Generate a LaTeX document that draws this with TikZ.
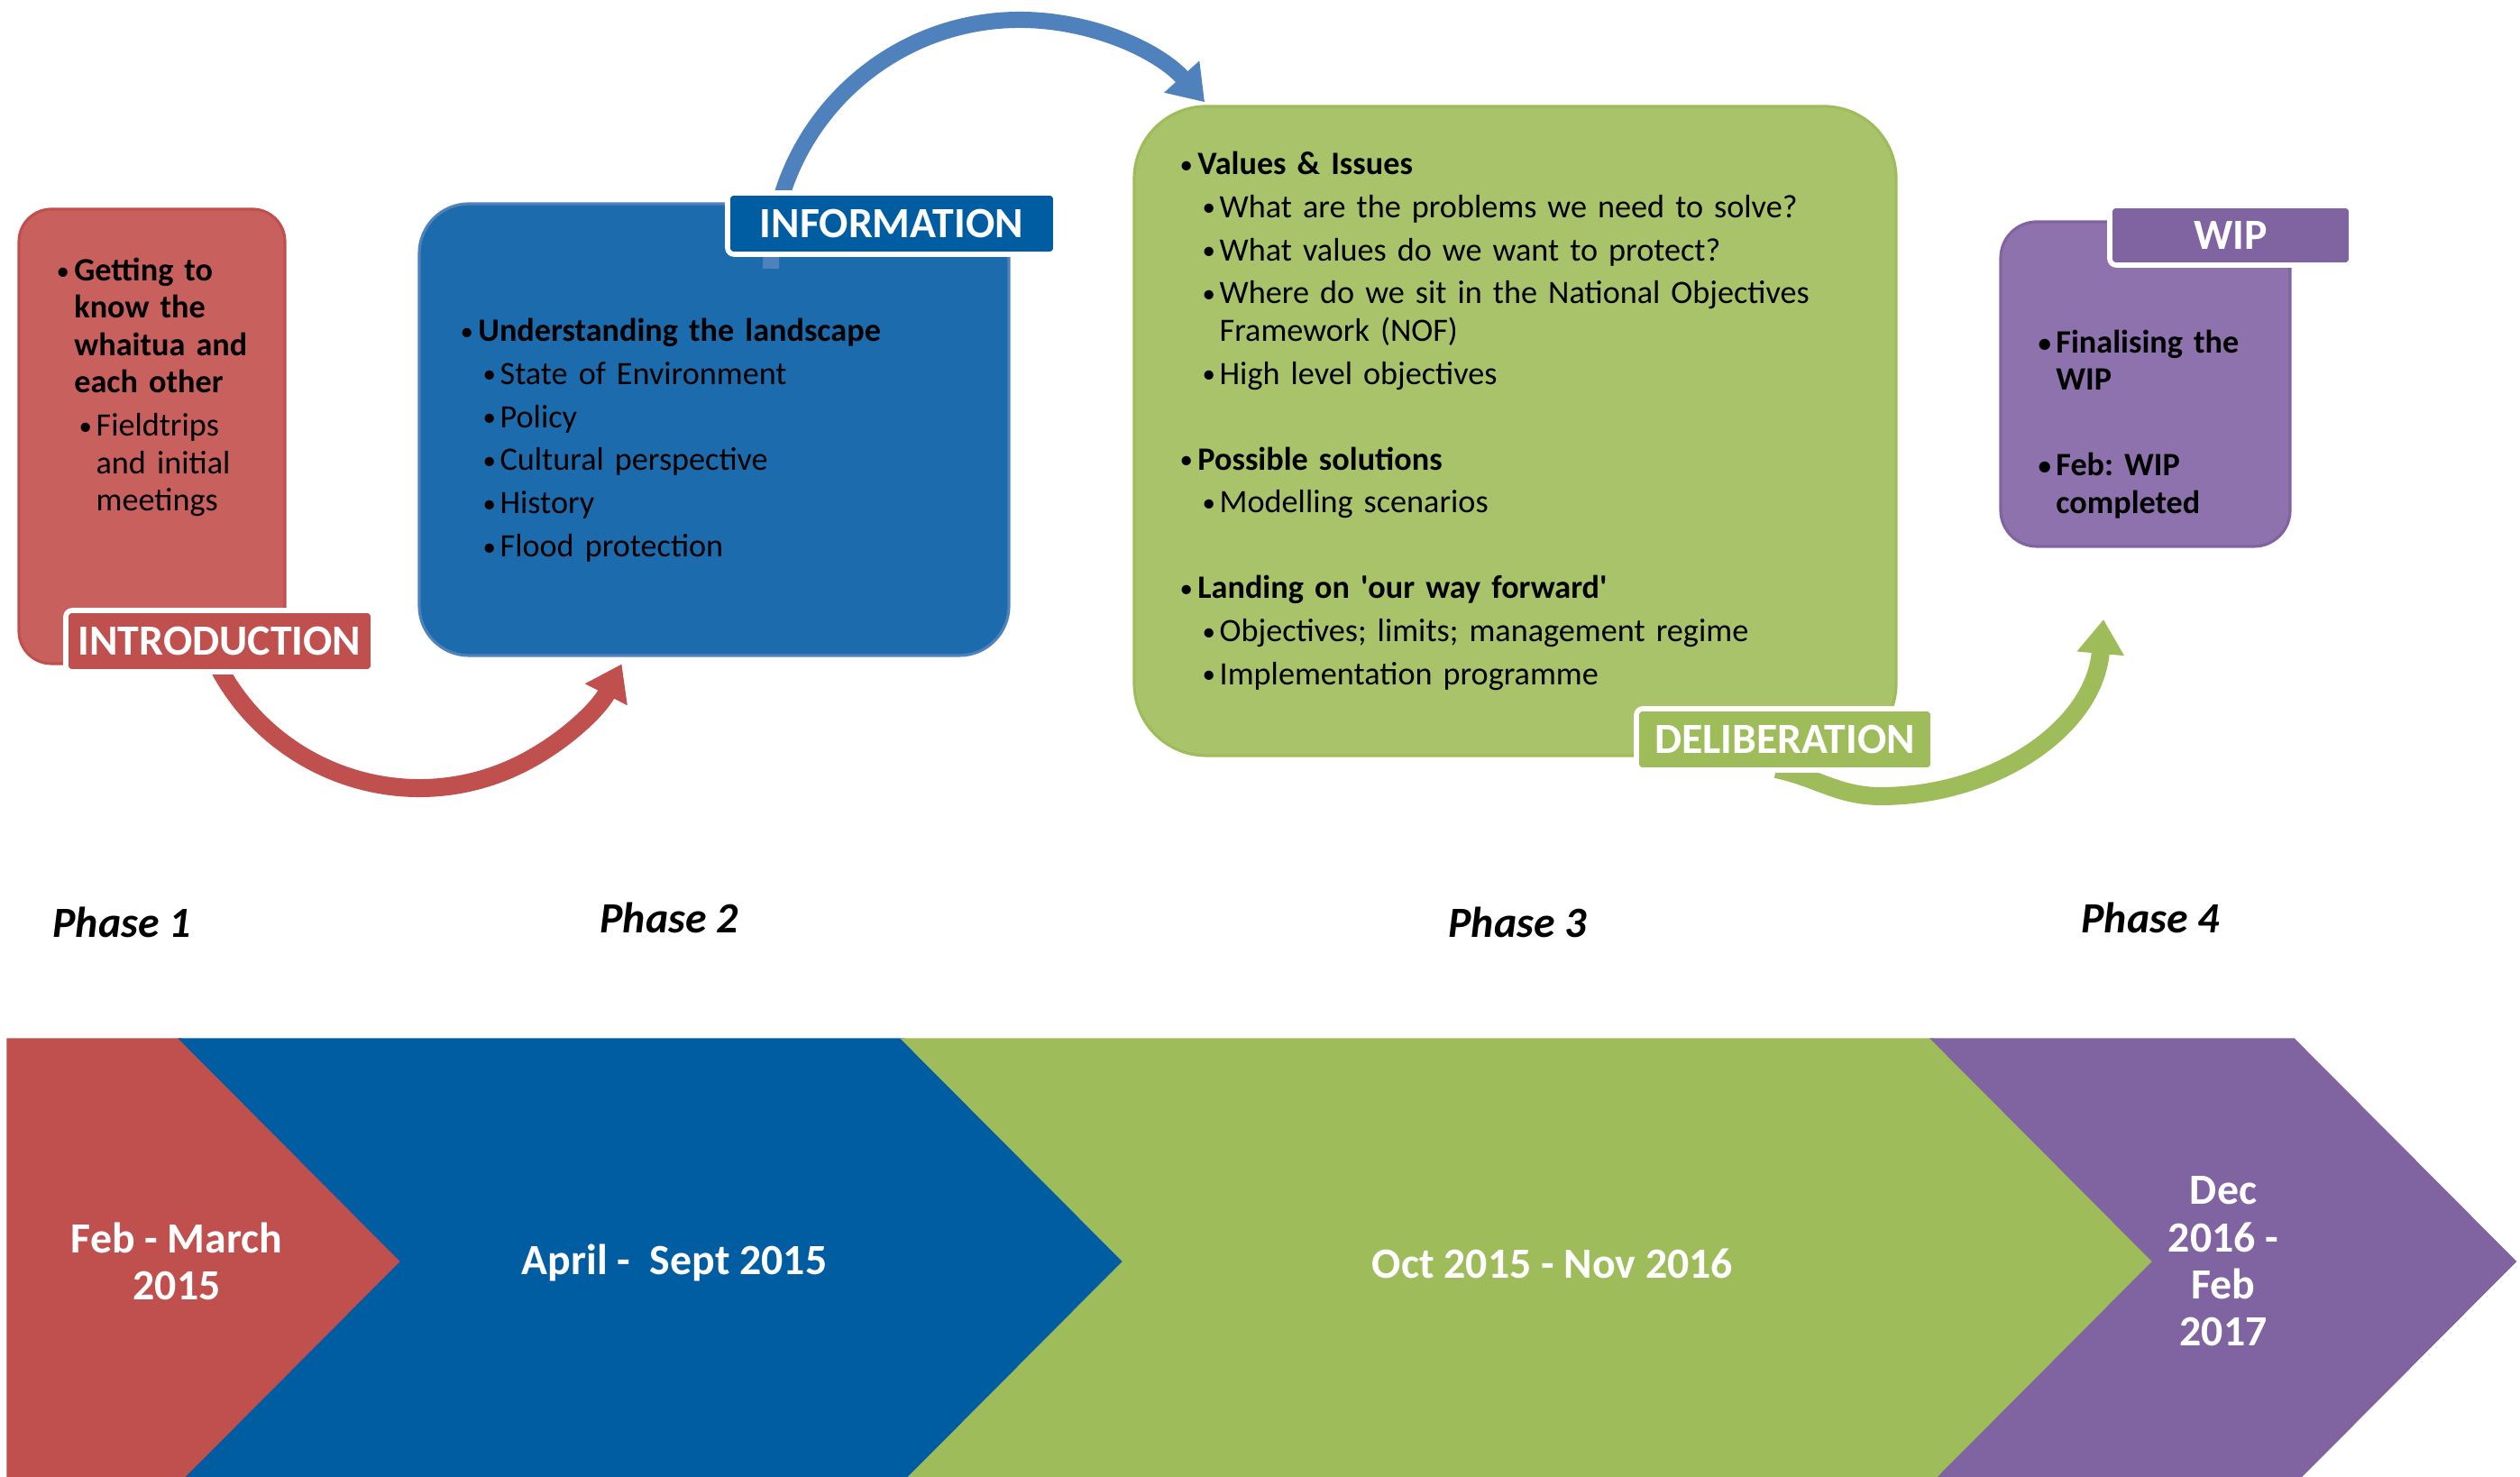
\documentclass[tikz,border=0pt]{standalone}
\usepackage{fontspec}
\usepackage{graphicx}
\setmainfont{Carlito}
\usetikzlibrary{arrows.meta,positioning,calc}

\definecolor{introred}{HTML}{C0504D}
\definecolor{introbox}{HTML}{C8605D}
\definecolor{infoblue}{HTML}{005DA2}
\definecolor{infobox}{HTML}{1C6CAD}
\definecolor{infoedge}{HTML}{4F81BD}
\definecolor{delgreen}{HTML}{9FBC5A}
\definecolor{delbox}{HTML}{A8C36A}
\definecolor{wippurple}{HTML}{8064A2}
\definecolor{wipbox}{HTML}{8D72AD}

\newcommand{\dotmark}{\raisebox{0.4pt}{\scalebox{0.8}{\textbullet}}}
\newcommand{\bulA}[1]{\par\noindent\hangindent=5.6pt\hangafter=1\makebox[5.6pt][l]{\dotmark}#1\par}
\newcommand{\bulB}[1]{\par\noindent\hangindent=12.5pt\hangafter=1\hspace*{7.1pt}\makebox[5.4pt][l]{\dotmark}#1\par}
\newcommand{\bulgap}{\vspace{13.4pt}}

\begin{document}
\begin{tikzpicture}[
  card/.style={draw, line width=0.9pt, inner sep=0pt},
  tag/.style={draw=white, line width=1.6pt, rounded corners=2pt, inner sep=0pt,
              minimum height=0.68cm, text=white,
              font=\bfseries\fontsize{13.6}{14}\selectfont},
  boxtext/.style={anchor=north west, inner sep=0pt, text width=#1, align=left,
                  font=\fontsize{10.3}{11.8}\selectfont\frenchspacing,
                  execute at begin node={\setlength{\parskip}{1.8pt}}},
  phase/.style={font=\bfseries\itshape\fontsize{13.6}{14}\selectfont},
  date/.style={text=white, align=center, font=\bfseries\fontsize{13.6}{14.9}\selectfont},
  chev/.style={draw=white, line width=0.9pt},
  arc/.style={line width=0.2cm, -{Triangle[length=0.38cm, width=0.5cm]}}
]
\useasboundingbox (0,0) rectangle (27.95,16.38);
\fill[white] (0,0) rectangle (27.95,16.38);

% timeline
\fill[chev, introred] (0.09,4.85) -- (2.01,4.85) -- ++(2.45,-2.46) -- (2.01,-0.07) -- (0.09,-0.07) -- cycle;
\foreach \l/\r/\c in {2.01/10.02/infoblue, 10.02/21.44/delgreen, 21.44/25.44/wippurple}
  \fill[chev, \c] (\l,4.85) -- (\r,4.85) -- ++(2.45,-2.46) -- (\r,-0.07)
        -- (\l,-0.07) -- ++(2.45,2.46) -- cycle;

\node[date] (d1) at (1.96,2.39) {Feb - March\\2015};
\node[date] (d2) at (7.48,2.37) {April -\ \ Sept 2015};
\node[date] (d3) at (17.22,2.37) {Oct 2015 - Nov 2016};
\node[date] (d4) at (24.66,2.39) {Dec\\2016 -\\Feb\\2017};

\foreach \n/\x/\y in {1/1.35/6.15, 2/7.42/6.20, 3/16.83/6.15, 4/23.85/6.20}
  \node[phase] (ph\n) at (\x,\y) {Phase \n};

% phase cards
\node[card, fill=introbox, draw=introred, rounded corners=0.36cm,
      minimum width=2.95cm, minimum height=5.04cm] (intro) at (1.685,11.54) {};
\node[card, fill=infobox, draw=infoedge, rounded corners=0.55cm,
      minimum width=6.54cm, minimum height=5.01cm] (info) at (7.92,11.615) {};
\node[card, fill=delbox, draw=delgreen, rounded corners=0.8cm,
      minimum width=8.45cm, minimum height=7.20cm] (delib) at (16.805,11.60) {};
\node[card, fill=wipbox, draw=wippurple, rounded corners=0.4cm,
      minimum width=3.21cm, minimum height=3.60cm] (wip) at (23.795,12.12) {};

% arrows between phases
\coordinate (introout) at (2.366,9.095);
\coordinate (infoout) at (8.55,13.40);
\coordinate (delout) at (19.70,7.85);
\coordinate (dellow) at (20.86,7.55);
\coordinate (wipin) at (23.33,9.51);
\draw[arc, introred] (introout) arc[start angle=205, end angle=333, radius=2.52];
\draw[arc, infoedge, line width=0.18cm] (infoout) arc[start angle=180, end angle=42, radius=2.76];
\draw[arc, delgreen] (delout) to[out=-12, in=180] (dellow) to[out=0, in=-95] (wipin);

\node[tag, fill=introred, minimum width=3.41cm] (introtag) at (2.435,9.27) {INTRODUCTION};
\node[tag, fill=infoblue, minimum width=3.64cm] (infotag) at (9.89,13.90) {INFORMATION};
\node[tag, fill=delgreen, minimum width=3.29cm] (deltag) at (19.795,8.18) {DELIBERATION};
\node[tag, fill=wippurple, minimum width=2.68cm, minimum height=0.66cm] (wiptag) at (24.74,13.77) {WIP};

% card texts
\node[boxtext=2.6cm] (introtxt) at (0.62,13.75)
  {\bulA{\textbf{Getting to\newline know the\newline whaitua and\newline each other}}%
   \bulB{Fieldtrips\newline and initial\newline meetings}};
\node[boxtext=6cm] (infotxt) at (5.10,13.08)
  {\bulA{\textbf{Understanding the landscape}}\bulB{State of Environment}\bulB{Policy}%
   \bulB{Cultural perspective}\bulB{History}\bulB{Flood protection}};
\node[boxtext=8cm] (deltxt) at (13.08,14.93)
  {\bulA{\textbf{Values \& Issues}}\bulB{What are the problems we need to solve?}%
   \bulB{What values do we want to protect?}%
   \bulB{Where do we sit in the National Objectives\newline Framework (NOF)}%
   \bulB{High level objectives}\bulgap
   \bulA{\textbf{Possible solutions}}\bulB{Modelling scenarios}\bulgap
   \bulA{\textbf{Landing on \textquotesingle our way forward\textquotesingle}}%
   \bulB{Objectives; limits; management regime}\bulB{Implementation programme}};
\node[boxtext=3cm] (wiptxt) at (22.60,12.95)
  {\bfseries\bulA{Finalising the\newline WIP}\bulgap\bulA{Feb: WIP\newline completed}};
\end{tikzpicture}
\end{document}
